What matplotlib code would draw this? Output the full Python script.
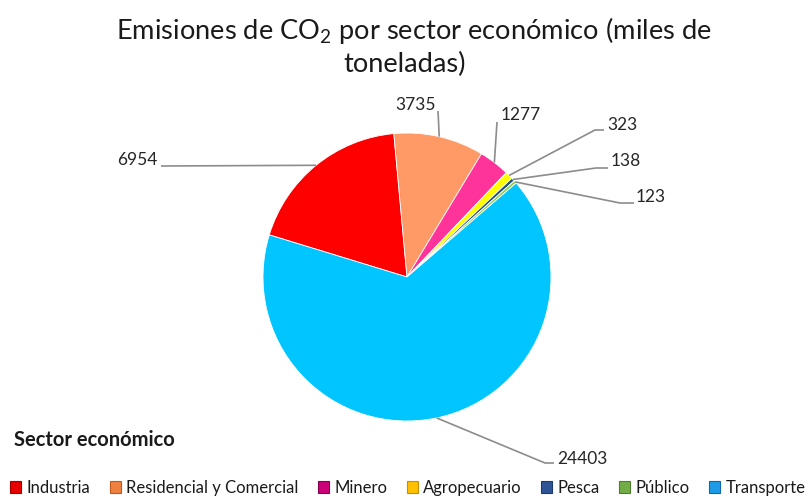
import matplotlib
matplotlib.use("Agg")
import matplotlib.pyplot as plt
from matplotlib.patches import Patch
import numpy as np

plt.rcParams["font.family"] = ["Lato", "DejaVu Sans"]
plt.rcParams["mathtext.fontset"] = "custom"
plt.rcParams["mathtext.rm"] = "Lato"

# Data: CO2 emissions by economic sector (thousand tonnes)
sectores = ["Industria", "Residencial y Comercial", "Minero", "Agropecuario",
            "Pesca", "Público", "Transporte"]
emisiones = [6954, 3735, 1277, 323, 138, 123, 24403]

colores = ["#FF0000", "#FF9966", "#FF3399", "#FFFF00", "#1F4E79", "#92D050", "#00C5FF"]
colores_leyenda = ["#E80000", "#F08040", "#CC0077", "#FFC000", "#2F5597", "#70AD47", "#1E9BE8"]
bordes_leyenda = ["#A00000", "#C05A20", "#8A0050", "#C89000", "#1F3A70", "#4E7E30", "#1068A8"]

W, H = 811, 499
fig = plt.figure(figsize=(W / 100, H / 100), dpi=100)
ax = fig.add_axes([0, 0, 1, 1])


def py(y):
    """Convert a top-down pixel row into the axis y coordinate."""
    return H - y


cx, cy, r = 407, py(277), 144
wedges, _ = ax.pie(emisiones, colors=colores, startangle=163, counterclock=False,
                   center=(cx, cy), radius=r,
                   wedgeprops=dict(edgecolor="white", linewidth=0.6))
ax.set_xlim(0, W)
ax.set_ylim(0, H)
ax.set_aspect("equal")
ax.axis("off")

# Label text positions and leader-line elbows (pixels, top-down)
etiquetas = [
    dict(txt=(158, 160), ha="right", pts=[(161, 166)]),
    dict(txt=(416, 105), ha="center", pts=[(438, 111)]),
    dict(txt=(501, 115), ha="left", pts=[(497, 122)]),
    dict(txt=(607, 125), ha="left", pts=[(604, 130), (595, 130)]),
    dict(txt=(611, 161), ha="left", pts=[(608, 168), (596, 168)]),
    dict(txt=(636, 197), ha="left", pts=[(634, 203), (620, 203)]),
    dict(txt=(557, 459), ha="left", pts=[(554, 463), (545, 463)]),
]

for w, val, lab in zip(wedges, emisiones, etiquetas):
    theta = np.deg2rad((w.theta1 + w.theta2) / 2)
    ax_pt = (cx + r * np.cos(theta), cy + r * np.sin(theta))
    xs = [p[0] for p in lab["pts"]] + [ax_pt[0]]
    ys = [py(p[1]) for p in lab["pts"]] + [ax_pt[1]]
    ax.plot(xs, ys, color="#8C8C8C", lw=1.2, solid_capstyle="butt", zorder=3)
    ax.text(lab["txt"][0], py(lab["txt"][1]), f"{val}", ha=lab["ha"], va="center",
            fontsize=12.5, color="#262626")

# Title
fig.text(414 / W, 1 - 30 / H, r"Emisiones de CO$_\mathregular{2}$ por sector económico (miles de",
         ha="center", va="center", fontsize=19.6, color="#1a1a1a")
fig.text(405 / W, 1 - 64 / H, "toneladas)", ha="center", va="center", fontsize=19.6, color="#1a1a1a")

# Legend
fig.text(14 / W, 1 - 440 / H, "Sector económico", ha="left", va="center",
         fontsize=14.5, fontweight="bold", color="#1a1a1a")
handles = [Patch(facecolor=c, edgecolor=e, linewidth=0.8)
           for c, e in zip(colores_leyenda, bordes_leyenda)]
fig.legend(handles, sectores, loc="center", bbox_to_anchor=(408 / W, 1 - 488 / H),
           ncol=7, frameon=False, fontsize=12, handlelength=0.65, handleheight=0.7,
           handletextpad=0.35, columnspacing=1.15, borderaxespad=0, labelcolor="#1a1a1a")

fig.savefig("out.png", dpi=100)
